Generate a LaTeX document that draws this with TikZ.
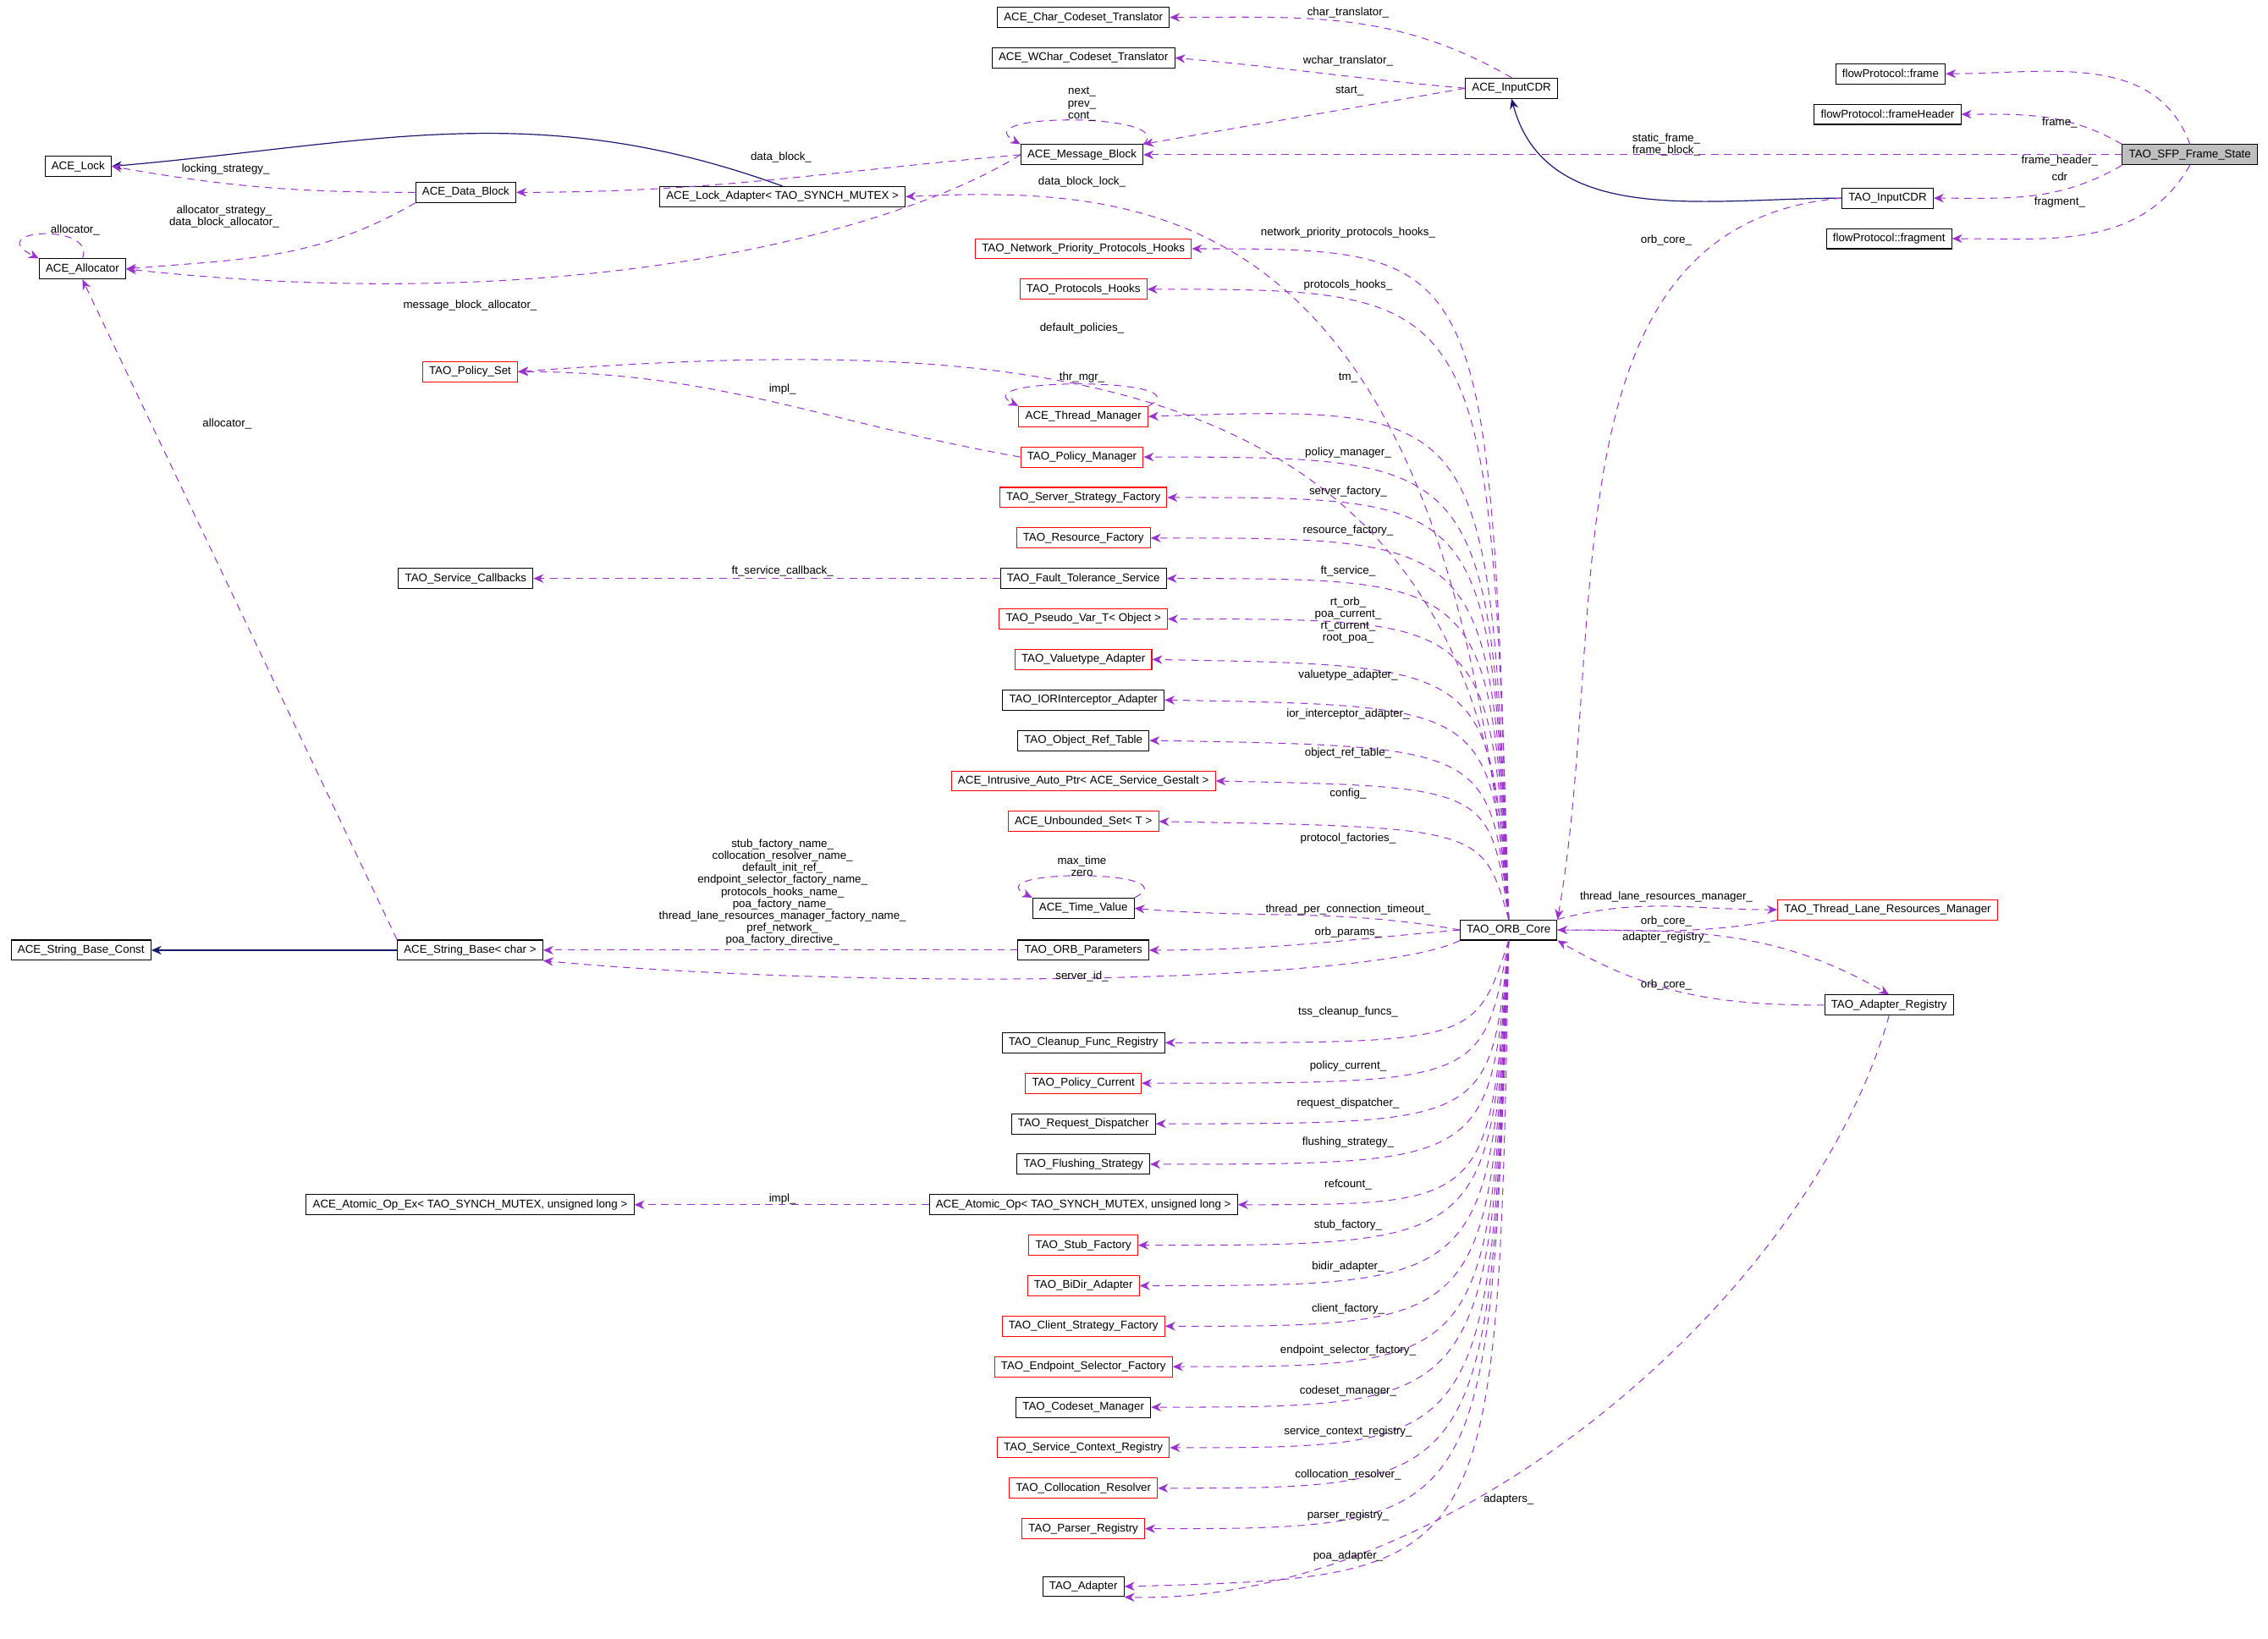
\documentclass[tikz,border=0pt]{standalone}
\usepackage{fontspec}
\setmainfont{Liberation Sans}
\usetikzlibrary{arrows.meta}
\definecolor{dep}{RGB}{154,50,205}
\definecolor{inh}{RGB}{25,25,112}
\tikzset{
 cls/.style={draw=black,line width=0.6pt,inner xsep=4.5pt,inner ysep=2.5pt,minimum height=14pt,font=\fontsize{7.8}{8}\selectfont,fill=white},
 rcls/.style={cls,draw=red},
 dep/.style={draw=dep,dashed,dash pattern=on 5pt off 4pt,line width=0.6pt,-{Stealth[length=7pt,width=6pt]}},
 inh/.style={draw=inh,line width=0.7pt,-{Stealth[length=7pt,width=6pt]}},
 lbl/.style={font=\fontsize{7.8}{8.3}\selectfont,align=center,inner sep=0pt}
}
\begin{document}
\begin{tikzpicture}[x=1pt,y=1pt]
\useasboundingbox (0,0) rectangle (1568,-1133);
% nodes
\node[cls] (chr) at (749,-12) {ACE\_Char\_Codeset\_Translator};
\node[cls] (wch) at (749,-40) {ACE\_WChar\_Codeset\_Translator};
\node[cls] (icdr) at (1045,-61) {ACE\_InputCDR};
\node[cls] (fr) at (1307,-51) {flowProtocol::frame};
\node[cls] (frh) at (1305,-79) {flowProtocol::frameHeader};
\node[cls,fill=black!25] (sfp) at (1514,-107) {TAO\_SFP\_Frame\_State};
\node[cls] (mb) at (748,-107) {ACE\_Message\_Block};
\node[cls] (lock) at (54,-115) {ACE\_Lock};
\node[cls] (db) at (322,-133) {ACE\_Data\_Block};
\node[cls] (la) at (541,-136) {ACE\_Lock\_Adapter< TAO\_SYNCH\_MUTEX >};
\node[cls] (ticdr) at (1305,-137) {TAO\_InputCDR};
\node[cls] (frag) at (1306,-165) {flowProtocol::fragment};
\node[cls] (alloc) at (57,-186) {ACE\_Allocator};
\node[rcls] (nph) at (749,-172) {TAO\_Network\_Priority\_Protocols\_Hooks};
\node[rcls] (ph) at (749,-200) {TAO\_Protocols\_Hooks};
\node[rcls] (ps) at (325,-257) {TAO\_Policy\_Set};
\node[rcls] (tm) at (749,-288) {ACE\_Thread\_Manager};
\node[rcls] (pm) at (748,-316) {TAO\_Policy\_Manager};
\node[rcls] (ssf) at (749,-344) {TAO\_Server\_Strategy\_Factory};
\node[rcls] (rf) at (749,-372) {TAO\_Resource\_Factory};
\node[cls] (sc) at (322,-400) {TAO\_Service\_Callbacks};
\node[cls] (fts) at (749,-400) {TAO\_Fault\_Tolerance\_Service};
\node[rcls] (pv) at (749,-428) {TAO\_Pseudo\_Var\_T< Object >};
\node[rcls] (va) at (749,-456) {TAO\_Valuetype\_Adapter};
\node[cls] (ior) at (749,-484) {TAO\_IORInterceptor\_Adapter};
\node[cls] (ort) at (749,-512) {TAO\_Object\_Ref\_Table};
\node[rcls] (iap) at (749,-540) {ACE\_Intrusive\_Auto\_Ptr< ACE\_Service\_Gestalt >};
\node[rcls] (us) at (749,-568) {ACE\_Unbounded\_Set< T >};
\node[cls] (tv) at (749,-628) {ACE\_Time\_Value};
\node[cls] (orb) at (1043,-643) {TAO\_ORB\_Core};
\node[rcls] (tlr) at (1305,-629) {TAO\_Thread\_Lane\_Resources\_Manager};
\node[cls] (sbc) at (56,-657) {ACE\_String\_Base\_Const};
\node[cls] (sb) at (325,-657) {ACE\_String\_Base< char >};
\node[cls] (op) at (749,-657) {TAO\_ORB\_Parameters};
\node[cls] (ar) at (1306,-695) {TAO\_Adapter\_Registry};
\node[cls] (cfr) at (749,-721) {TAO\_Cleanup\_Func\_Registry};
\node[rcls] (pc) at (749,-749) {TAO\_Policy\_Current};
\node[cls] (rd) at (749,-777) {TAO\_Request\_Dispatcher};
\node[cls] (fs) at (749,-805) {TAO\_Flushing\_Strategy};
\node[cls] (aox) at (325,-833) {ACE\_Atomic\_Op\_Ex< TAO\_SYNCH\_MUTEX, unsigned long >};
\node[cls] (ao) at (749,-833) {ACE\_Atomic\_Op< TAO\_SYNCH\_MUTEX, unsigned long >};
\node[rcls] (stf) at (749,-861) {TAO\_Stub\_Factory};
\node[rcls] (bd) at (749,-889) {TAO\_BiDir\_Adapter};
\node[rcls] (csf) at (749,-917) {TAO\_Client\_Strategy\_Factory};
\node[rcls] (esf) at (749,-945) {TAO\_Endpoint\_Selector\_Factory};
\node[cls] (cm) at (749,-973) {TAO\_Codeset\_Manager};
\node[rcls] (scr) at (749,-1001) {TAO\_Service\_Context\_Registry};
\node[rcls] (cr) at (749,-1029) {TAO\_Collocation\_Resolver};
\node[rcls] (pr) at (749,-1057) {TAO\_Parser\_Registry};
\node[cls] (ad) at (749,-1097) {TAO\_Adapter};
% inheritance
\draw[inh] (la.north) to[out=160,in=5] (lock.east);
\draw[inh] (ticdr.west) to[out=180,in=-75] (icdr.south);
\draw[inh] (sb.west) -- (sbc.east);
% top area
\draw[dep] (icdr.north) to[out=150,in=0] (chr.east);
\draw[dep] (icdr.west) to[out=175,in=-5] (wch.east);
\draw[dep] (icdr.west) to[out=190,in=10] (mb.north east);
\draw[dep] (sfp.north) to[out=110,in=0] (fr.east);
\draw[dep] (sfp.north west) to[out=150,in=0] (frh.east);
\draw[dep] (sfp.west) -- (mb.east);
\draw[dep] (sfp.south west) to[out=210,in=0] (ticdr.east);
\draw[dep] (sfp.south) to[out=240,in=0] (frag.east);
\draw[dep] (ticdr.west) to[out=185,in=80] (orb.north east);
\draw[dep] (mb.north east) .. controls +(25,22) and +(-40,22) .. (mb.north west);
\draw[dep] (mb.west) to[out=185,in=0] (db.east);
\draw[dep] (mb.west) .. controls (620,-160) and (400,-220) .. (alloc.east);
\draw[dep] (db.west) to[out=180,in=-10] (lock.east);
\draw[dep] (db.south west) to[out=210,in=5] (alloc.east);
\draw[dep] (alloc.north) .. controls +(10,25) and +(-40,20) .. (alloc.north west);
\draw[dep] (sb.north west) -- (alloc.south);
% ORB core edges upward
\draw[dep] (orb.north) .. controls (1000,-140) and (800,-128) .. (la.east);
\draw[dep] (orb.north) .. controls (1030,-172) .. (nph.east);
\draw[dep] (orb.north) .. controls (1030,-200) .. (ph.east);
\draw[dep] (orb.north) .. controls (1030,-240) and (700,-232) .. (ps.east);
\draw[dep] (orb.north) .. controls (1030,-280) .. (tm.east);
\draw[dep] (orb.north) .. controls (1030,-316) .. (pm.east);
\draw[dep] (orb.north) .. controls (1030,-344) .. (ssf.east);
\draw[dep] (orb.north) .. controls (1030,-372) .. (rf.east);
\draw[dep] (orb.north) .. controls (1030,-400) .. (fts.east);
\draw[dep] (orb.north) .. controls (1030,-428) .. (pv.east);
\draw[dep] (orb.north) .. controls (1030,-460) .. (va.east);
\draw[dep] (orb.north) .. controls (1030,-488) .. (ior.east);
\draw[dep] (orb.north) .. controls (1030,-516) .. (ort.east);
\draw[dep] (orb.north) .. controls (1030,-544) .. (iap.east);
\draw[dep] (orb.north) .. controls (1025,-572) .. (us.east);
\draw[dep] (orb.west) to[out=170,in=-5] (tv.east);
\draw[dep] (orb.west) to[out=185,in=0] (op.east);
\draw[dep] (orb.south west) .. controls (950,-680) and (600,-685) .. (sb.south east);
\draw[dep] (tm.north east) .. controls +(40,20) and +(-40,20) .. (tm.north west);
\draw[dep] (tv.north east) .. controls +(40,20) and +(-40,20) .. (tv.north west);
\draw[dep] (pm.west) to[out=170,in=0] (ps.east);
\draw[dep] (fts.west) -- (sc.east);
\draw[dep] (op.west) -- (sb.east);
\draw[dep] (ao.west) -- (aox.east);
% ORB core edges downward
\draw[dep] (orb.south) .. controls (1020,-721) .. (cfr.east);
\draw[dep] (orb.south) .. controls (1025,-749) .. (pc.east);
\draw[dep] (orb.south) .. controls (1030,-777) .. (rd.east);
\draw[dep] (orb.south) .. controls (1030,-805) .. (fs.east);
\draw[dep] (orb.south) .. controls (1030,-833) .. (ao.east);
\draw[dep] (orb.south) .. controls (1030,-861) .. (stf.east);
\draw[dep] (orb.south) .. controls (1030,-889) .. (bd.east);
\draw[dep] (orb.south) .. controls (1030,-917) .. (csf.east);
\draw[dep] (orb.south) .. controls (1030,-945) .. (esf.east);
\draw[dep] (orb.south) .. controls (1030,-973) .. (cm.east);
\draw[dep] (orb.south) .. controls (1030,-1001) .. (scr.east);
\draw[dep] (orb.south) .. controls (1030,-1029) .. (cr.east);
\draw[dep] (orb.south) .. controls (1030,-1057) .. (pr.east);
\draw[dep] (orb.south) .. controls (1035,-1090) .. (ad.east);
\draw[dep] (orb.north east) to[out=15,in=180] (tlr.west);
\draw[dep] (tlr.south west) to[out=190,in=0] (orb.east);
\draw[dep] (orb.east) to[out=0,in=150] (ar.north);
\draw[dep] (ar.west) to[out=180,in=-30] (orb.south east);
\draw[dep] (ar.south) .. controls (1250,-900) and (1000,-1110) .. (ad.south east);
% labels
\node[lbl] (l1) at (932,-9) {char\_translator\_};
\node[lbl] (l2) at (932,-42) {wchar\_translator\_};
\node[lbl] (l3) at (933,-63) {start\_};
\node[lbl] (l4) at (1424,-85) {frame\_};
\node[lbl] (l5) at (1424,-111) {frame\_header\_};
\node[lbl] (l6) at (1152,-100) {static\_frame\_\\frame\_block\_};
\node[lbl] (l7) at (1424,-122) {cdr};
\node[lbl] (l8) at (1424,-140) {fragment\_};
\node[lbl] (l9) at (1152,-166) {orb\_core\_};
\node[lbl] (l10) at (748,-72) {next\_\\prev\_\\cont\_};
\node[lbl] (l11) at (540,-109) {data\_block\_};
\node[lbl] (l12) at (156,-117) {locking\_strategy\_};
\node[lbl] (l13) at (155,-150) {allocator\_strategy\_\\data\_block\_allocator\_};
\node[lbl] (l14) at (52,-159) {allocator\_};
\node[lbl] (l15) at (325,-211) {message\_block\_allocator\_};
\node[lbl] (l16) at (748,-126) {data\_block\_lock\_};
\node[lbl] (l17) at (157,-293) {allocator\_};
\node[lbl] (l18) at (932,-161) {network\_priority\_protocols\_hooks\_};
\node[lbl] (l19) at (932,-197) {protocols\_hooks\_};
\node[lbl] (l20) at (748,-227) {default\_policies\_};
\node[lbl] (l21) at (541,-269) {impl\_};
\node[lbl] (l22) at (748,-261) {thr\_mgr\_};
\node[lbl] (l23) at (932,-261) {tm\_};
\node[lbl] (l24) at (932,-313) {policy\_manager\_};
\node[lbl] (l25) at (932,-340) {server\_factory\_};
\node[lbl] (l26) at (932,-367) {resource\_factory\_};
\node[lbl] (l27) at (541,-395) {ft\_service\_callback\_};
\node[lbl] (l28) at (932,-395) {ft\_service\_};
\node[lbl] (l29) at (932,-429) {rt\_orb\_\\poa\_current\_\\rt\_current\_\\root\_poa\_};
\node[lbl] (l30) at (932,-467) {valuetype\_adapter\_};
\node[lbl] (l31) at (932,-494) {ior\_interceptor\_adapter\_};
\node[lbl] (l32) at (932,-521) {object\_ref\_table\_};
\node[lbl] (l33) at (932,-549) {config\_};
\node[lbl] (l34) at (932,-580) {protocol\_factories\_};
\node[lbl] (l35) at (748,-599) {max\_time\\zero};
\node[lbl] (l36) at (932,-629) {thread\_per\_connection\_timeout\_};
\node[lbl] (l37) at (932,-645) {orb\_params\_};
\node[lbl] (l38) at (541,-617) {stub\_factory\_name\_\\collocation\_resolver\_name\_\\default\_init\_ref\_\\endpoint\_selector\_factory\_name\_\\protocols\_hooks\_name\_\\poa\_factory\_name\_\\thread\_lane\_resources\_manager\_factory\_name\_\\pref\_network\_\\poa\_factory\_directive\_};
\node[lbl] (l39) at (748,-675) {server\_id\_};
\node[lbl] (l40) at (932,-700) {tss\_cleanup\_funcs\_};
\node[lbl] (l41) at (932,-737) {policy\_current\_};
\node[lbl] (l42) at (932,-763) {request\_dispatcher\_};
\node[lbl] (l43) at (932,-790) {flushing\_strategy\_};
\node[lbl] (l44) at (932,-819) {refcount\_};
\node[lbl] (l45) at (541,-829) {impl\_};
\node[lbl] (l46) at (932,-847) {stub\_factory\_};
\node[lbl] (l47) at (932,-876) {bidir\_adapter\_};
\node[lbl] (l48) at (932,-905) {client\_factory\_};
\node[lbl] (l49) at (932,-934) {endpoint\_selector\_factory\_};
\node[lbl] (l50) at (932,-962) {codeset\_manager\_};
\node[lbl] (l51) at (932,-990) {service\_context\_registry\_};
\node[lbl] (l52) at (932,-1020) {collocation\_resolver\_};
\node[lbl] (l53) at (932,-1048) {parser\_registry\_};
\node[lbl] (l54) at (932,-1076) {poa\_adapter\_};
\node[lbl] (l55) at (1043,-1037) {adapters\_};
\node[lbl] (l56) at (1152,-620) {thread\_lane\_resources\_manager\_};
\node[lbl] (l57) at (1152,-637) {orb\_core\_};
\node[lbl] (l58) at (1152,-648) {adapter\_registry\_};
\node[lbl] (l59) at (1152,-681) {orb\_core\_};
\end{tikzpicture}
\end{document}
